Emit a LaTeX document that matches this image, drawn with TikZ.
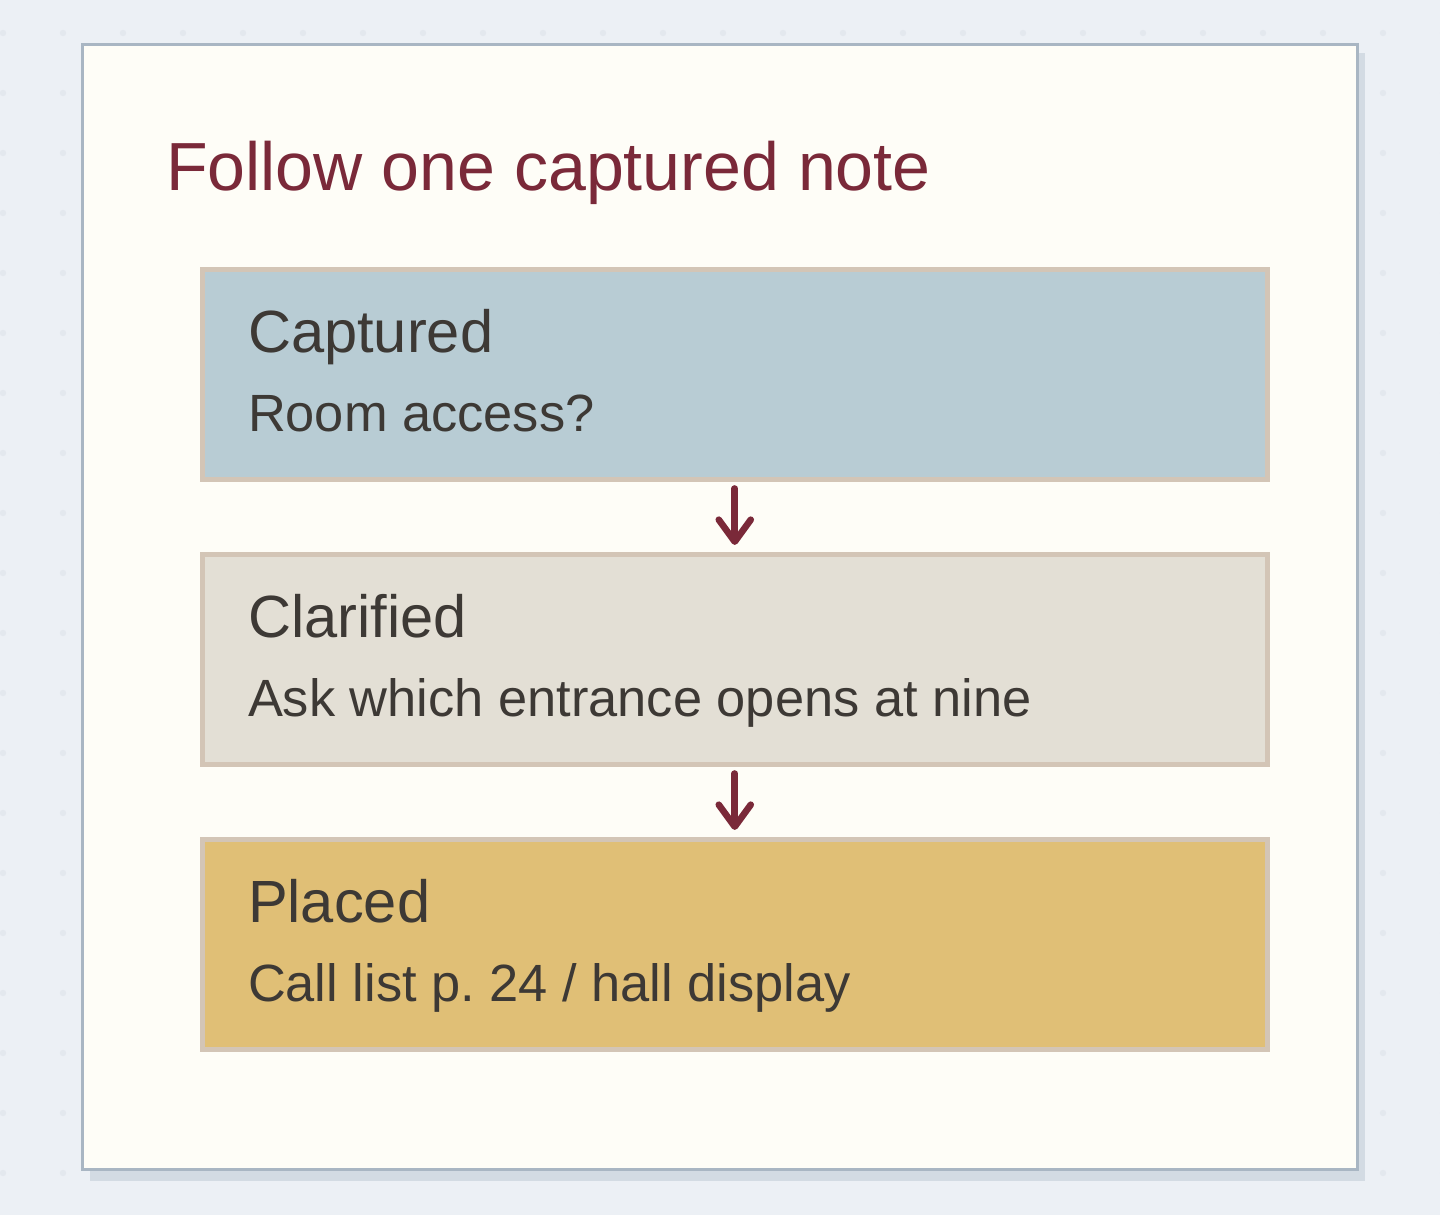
\documentclass[tikz,border=0pt]{standalone}
\usepackage{fontspec}
\setmainfont{Liberation Sans}
\usepackage{tikz}
\usetikzlibrary{arrows.meta,positioning}
\definecolor{pagebg}{HTML}{ECF0F5}
\definecolor{dotgrey}{HTML}{E3E8EE}
\definecolor{cardfill}{HTML}{FEFDF7}
\definecolor{cardline}{HTML}{A9B6C3}
\definecolor{cardshade}{HTML}{D3DBE3}
\definecolor{stageline}{HTML}{D3C5B6}
\definecolor{capblue}{HTML}{B8CCD4}
\definecolor{clagrey}{HTML}{E3DFD5}
\definecolor{plagold}{HTML}{E0BF76}
\definecolor{wine}{HTML}{7A2939}
\definecolor{ink}{HTML}{3D3935}
\def\Title{Follow one captured note}
\frenchspacing

\begin{document}
\begin{tikzpicture}[% one unit is one pixel of the reference
			x=0.5pt,y=0.5pt,
			every node/.style={
				inner sep=0pt,		% text sits right on its anchor
				outer sep=0pt
			},
			stage/.style={rectangle,draw=stageline,line width=2.5pt,
				minimum width=532.75pt,minimum height=105pt},
			head/.style={anchor=base west,text=ink,font=\fontsize{29.8}{34}\selectfont},
			sub/.style={anchor=base west,text=ink,font=\fontsize{26.2}{31}\selectfont},
			every edge/.style={draw=wine,line width=3.3pt,line cap=round,
				-{Straight Barb[length=11pt,width=16pt,line cap=round,line join=round]},
				shorten <=4.25pt,shorten >=5pt},
			node distance=37.5pt
		]
		% page and dots
		\useasboundingbox[fill=pagebg] (0,0) rectangle (1440,1215);
		\foreach \i in {0,...,24}
			\foreach \j in {0,...,19}
				\fill[dotgrey] (3+60*\i,1182-60*\j) circle[radius=1.6pt];
		% card
		\fill[cardshade] (90,34) rectangle (1365,1162);
		\draw[cardline,fill=cardfill,line width=1.5pt] (82.5,45) rectangle (1357.5,1170);
		\node[anchor=base west,text=wine,font=\fontsize{34.05}{40}\selectfont](Head) at (166,1024){\Title};
		% the three stages
		\node[stage,fill=capblue](Cap) at (734.75,840){};
		\node[stage,fill=clagrey](Cla)[below= of Cap]{};
		\node[stage,fill=plagold](Pla)[below= of Cla]{};
		\node[head] (CapT) at ([xshift=23pt,yshift=-41.5pt]Cap.north west){Captured};
		\node[sub]  (CapS) at ([xshift=23pt,yshift=-81pt]Cap.north west){Room access?};
		\node[head] (ClaT) at ([xshift=23pt,yshift=-41.5pt]Cla.north west){Clarified};
		\node[sub]  (ClaS) at ([xshift=23pt,yshift=-81pt]Cla.north west){Ask which entrance opens at nine};
		\node[head] (PlaT) at ([xshift=23pt,yshift=-41.5pt]Pla.north west){Placed};
		\node[sub]  (PlaS) at ([xshift=23pt,yshift=-81pt]Pla.north west){Call list p. 24 / hall display};
		\path
		(Cap)edge (Cla)
		(Cla)edge (Pla)
		;
	\end{tikzpicture}
\end{document}
